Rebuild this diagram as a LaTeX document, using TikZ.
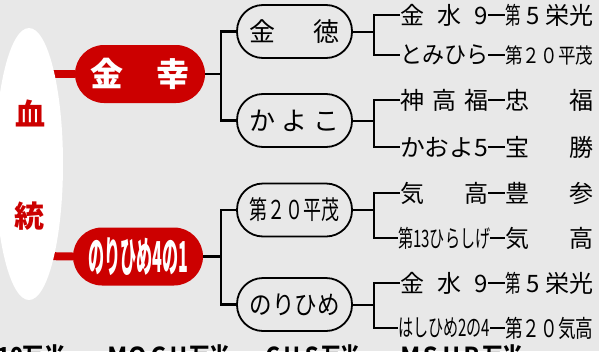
\documentclass[tikz,border=0pt]{standalone}
\usepackage{fontspec}
\usepackage{graphicx}
\usetikzlibrary{shapes.geometric}
\newfontfamily\cjk{Noto Sans CJK JP}
\definecolor{bgg}{RGB}{232,232,232}
\definecolor{rr}{RGB}{204,0,0}
\newcommand{\sqz}[2]{\resizebox{#1}{\height}{#2}}
\tikzset{
  kid/.style={draw=black, line width=1.8pt, rounded corners=26pt, minimum width=115pt, minimum height=53pt, inner sep=0pt, font=\cjk\fontsize{26}{26}\selectfont},
  redpill/.style={fill=rr, rounded corners=29pt, minimum width=130pt, minimum height=58pt, inner sep=0pt, text=white, font=\cjk\bfseries\fontsize{33}{33}\selectfont},
  gl/.style={anchor=west, inner sep=0pt, font=\cjk\fontsize{24}{24}\selectfont},
  conn/.style={line width=2.8pt},
  thinl/.style={line width=2pt},
  redl/.style={rr, line width=8pt},
  mark1/.style={text=rr, inner sep=0pt, font=\cjk\bfseries\fontsize{30}{30}\selectfont},
  btm/.style={anchor=north west, inner sep=0pt, font=\cjk\bfseries\fontsize{22}{22}\selectfont}
}
\begin{document}
\begin{tikzpicture}[x=1pt,y=-1pt]
\fill[bgg] (0,0) rectangle (599,351);
\useasboundingbox (0,0) rectangle (599,351);

% red pills
\node[redpill] (r1) at (140,74) {\makebox[100pt][s]{金\hfill 幸}};
\node[redpill] (r2) at (138,256.5) {\resizebox*{100pt}{38pt}{のりひめ4の1}};

% red connectors to the ellipse
\coordinate (e1) at (40,74);
\coordinate (e2) at (40,256);
\draw[redl] (e1) -- (r1.west);
\draw[redl] (e2) -- (r2.west);

% ellipse with marks
\node[ellipse, fill=white, minimum width=68pt, minimum height=272pt, inner sep=0pt] (ell) at (29,164) {};
\node[mark1] (xue) at (30,113) {血};
\node[mark1] (tong) at (29,216) {統};

% child pills
\node[kid] (c1) at (294.5,31.5) {\makebox[90pt][s]{金\hfill 徳}};
\node[kid] (c2) at (294.5,120.5) {\makebox[90pt][s]{か\hfill よ\hfill こ}};
\node[kid] (c3) at (294.5,210) {\sqz{90pt}{第２０平茂}};
\node[kid] (c4) at (294.5,304.5) {\sqz{90pt}{のりひめ}};

% brackets from red pills
\coordinate (j1) at (221,74);
\coordinate (j2) at (221,256.5);
\draw[conn] (r1.east) -- (j1);
\draw[conn] (c1.west) -| (j1) |- (c2.west);
\draw[conn] (r2.east) -- (j2);
\draw[conn] (c3.west) -| (j2) |- (c4.west);

% grandchildren
\node[gl] (a1) at (400,15) {\makebox[88pt][s]{金\hfill 水\hfill 9}};
\node[gl] (b1) at (505,15) {\makebox[88pt][s]{\scalebox{0.65}[1]{第}\hfill 5\hfill 栄光}};
\node[gl] (a2) at (400,55) {\sqz{88pt}{とみひら}};
\node[gl] (b2) at (505,55) {\sqz{88pt}{\fontsize{21}{21}\selectfont 第２０平茂}};
\node[gl] (a3) at (400,100) {\makebox[88pt][s]{神\hfill 高\hfill 福}};
\node[gl] (b3) at (505,100) {\makebox[88pt][s]{忠\hfill 福}};
\node[gl] (a4) at (400,147) {\sqz{88pt}{かおよ5}};
\node[gl] (b4) at (505,147) {\makebox[88pt][s]{宝\hfill 勝}};
\node[gl] (a5) at (400,193) {\makebox[88pt][s]{気\hfill 高}};
\node[gl] (b5) at (505,193) {\makebox[88pt][s]{豊\hfill 参}};
\node[gl] (a6) at (398,238) {\sqz{92pt}{第13ひらしげ}};
\node[gl] (b6) at (505,238) {\makebox[88pt][s]{気\hfill 高}};
\node[gl] (a7) at (400,283) {\makebox[88pt][s]{金\hfill 水\hfill 9}};
\node[gl] (b7) at (505,283) {\makebox[88pt][s]{\scalebox{0.65}[1]{第}\hfill 5\hfill 栄光}};
\node[gl] (a8) at (398,328) {\sqz{92pt}{はしひめ2の4}};
\node[gl] (b8) at (505,328) {\sqz{88pt}{第２０気高}};

\foreach \i in {1,...,8}{\draw[thinl] (a\i.east) -- (b\i.west);}

% grandchild brackets
\coordinate (k1) at (374,31.5);
\coordinate (k2) at (374,120.5);
\coordinate (k3) at (374,210);
\coordinate (k4) at (374,304.5);
\draw[thinl] (c1.east) -- (k1);
\draw[thinl] (a1.west) -| (k1) |- (a2.west);
\draw[thinl] (c2.east) -- (k2);
\draw[thinl] (a3.west) -| (k2) |- (a4.west);
\draw[thinl] (c3.east) -- (k3);
\draw[thinl] (a5.west) -| (k3) |- (a6.west);
\draw[thinl] (c4.east) -- (k4);
\draw[thinl] (a7.west) -| (k4) |- (a8.west);

% clipped bottom line
\begin{scope}
\clip (0,0) rectangle (599,351);
\node[btm] (bt1) at (-3,344) {\sqz{68pt}{10万米}};
\node[btm] (bt2) at (107,344) {\sqz{123pt}{ＭＯＣＵ万米}};
\node[btm] (bt3) at (263,344) {\sqz{97pt}{ＣＨＳ万米}};
\node[btm] (bt4) at (400,344) {\sqz{123pt}{ＭＳＨＰ万米}};
\end{scope}
\end{tikzpicture}
\end{document}
